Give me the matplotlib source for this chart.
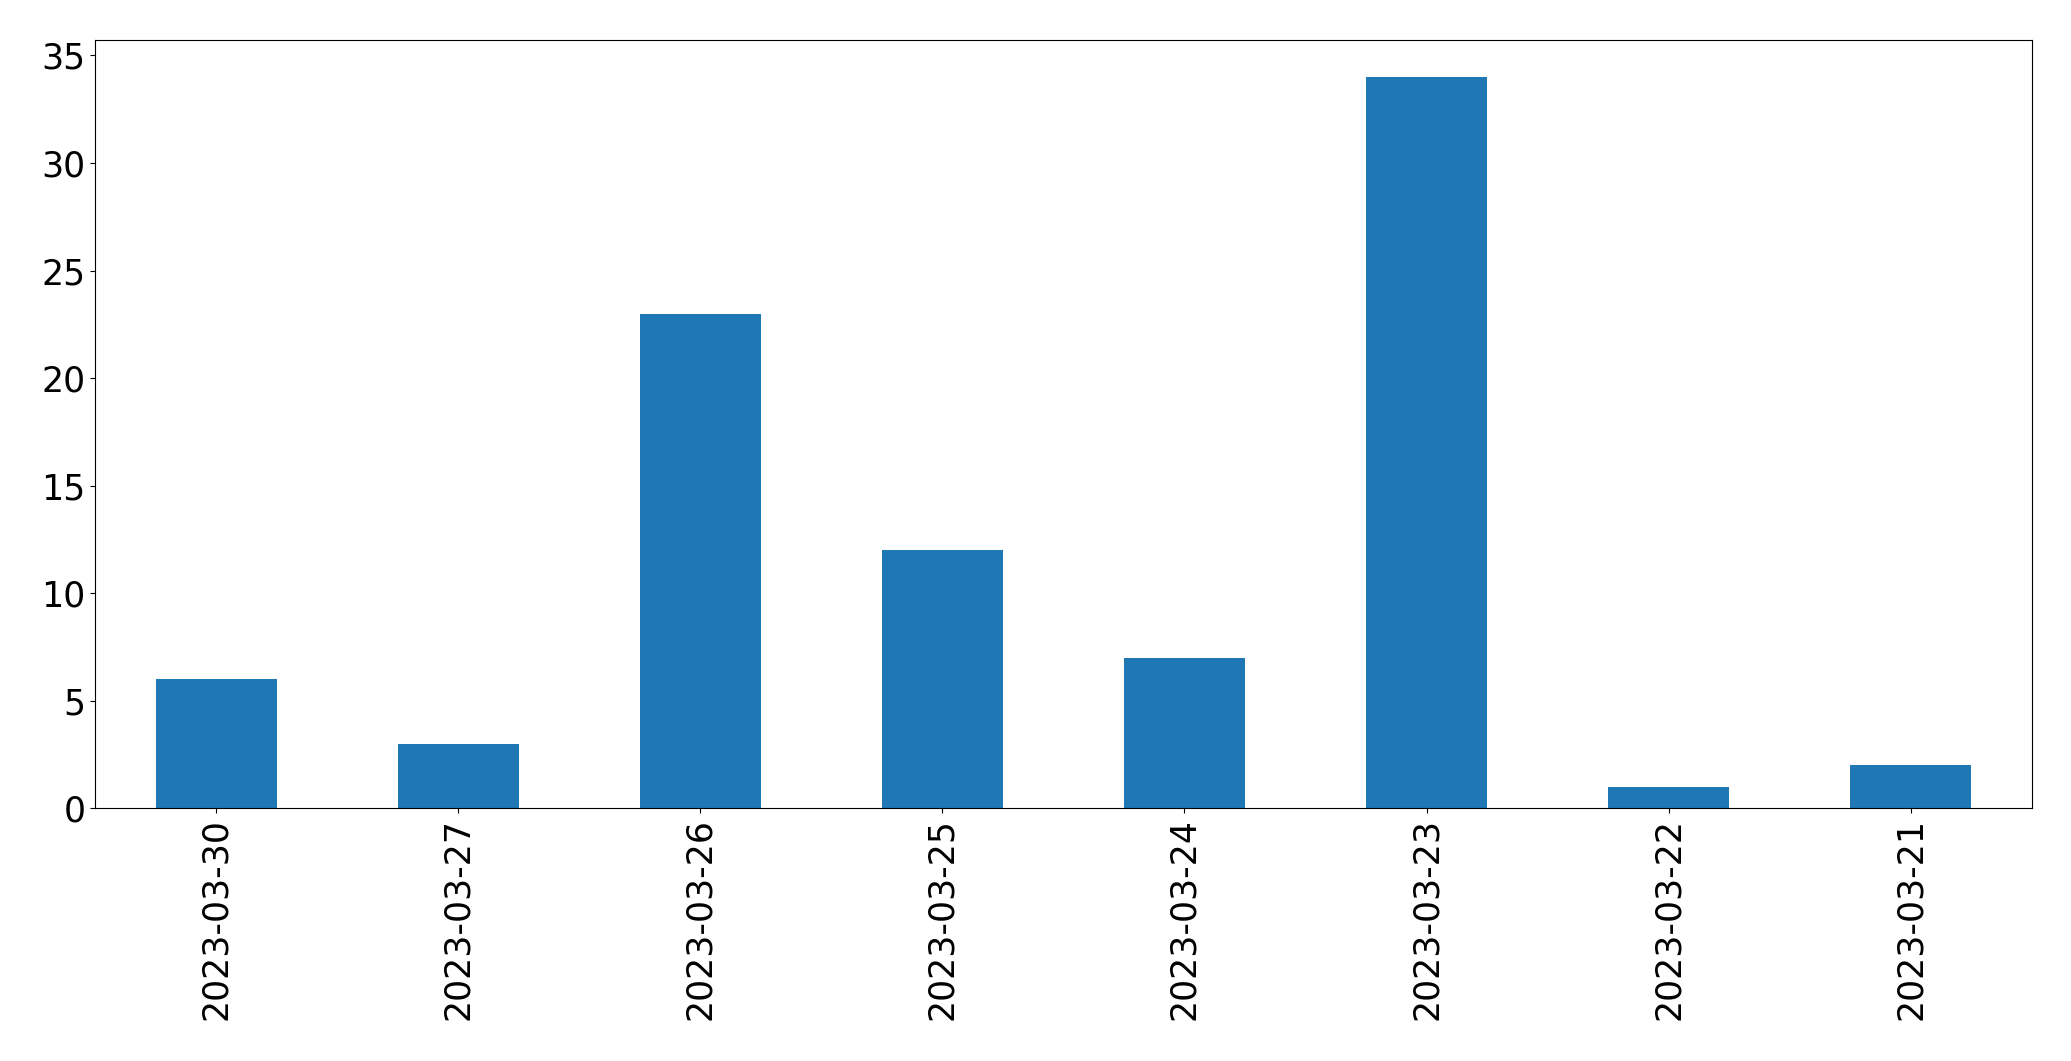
import matplotlib.pyplot as plt

dates = ["2023-03-30", "2023-03-27", "2023-03-26", "2023-03-25",
         "2023-03-24", "2023-03-23", "2023-03-22", "2023-03-21"]
counts = [6, 3, 23, 12, 7, 34, 1, 2]

fig, ax = plt.subplots(figsize=(20.71, 10.61), dpi=100)
fig.subplots_adjust(left=0.046, right=0.981, top=0.962, bottom=0.238)

x = list(range(len(dates)))
ax.bar(x, counts, width=0.5, color="#1f77b4")
ax.set_xlim(-0.5, len(dates) - 0.5)
ax.set_ylim(0, max(counts) * 1.05)
ax.set_xticks(x)
ax.set_xticklabels(dates, rotation=90)
ax.tick_params(labelsize=25)

fig.savefig("out.png", dpi=100)
